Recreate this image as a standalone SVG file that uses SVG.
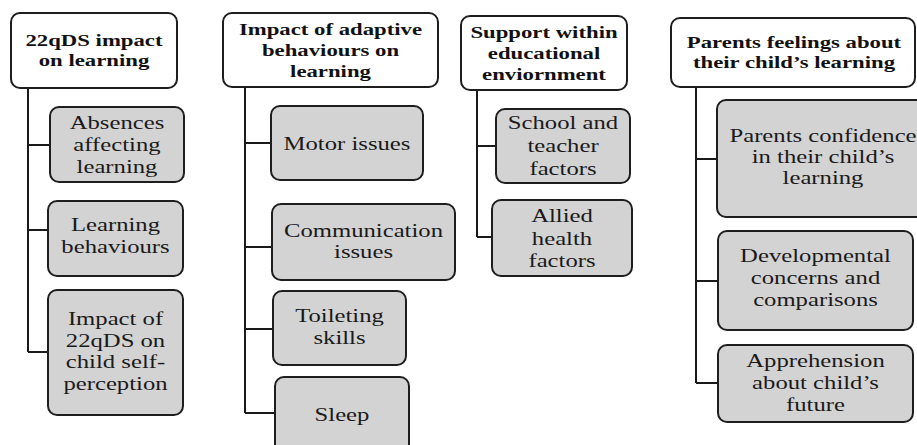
<svg xmlns="http://www.w3.org/2000/svg" width="917" height="445" viewBox="0 0 917 445">
  <style>
    .head rect { fill: #ffffff; stroke: #1e1e1e; stroke-width: 2; }
    .sub rect { fill: #d3d3d3; stroke: #1e1e1e; stroke-width: 2; }
    .head text { font-weight: bold; font-size: 17.5px; fill: #111; text-anchor: middle; }
    .sub text { font-size: 19px; fill: #1a1a1a; text-anchor: middle; }
    .links path { fill: none; stroke: #1a1a1a; stroke-width: 2; }
  </style>
  <rect width="917" height="445" fill="#ffffff"/>

  <!-- tree connectors -->
  <g class="links" id="connectors">
    <path d="M28 88 V352 M28 145 H50 M28 230 H48 M28 352 H48"/>
    <path d="M245 87 V413 M245 143 H271 M245 247 H272 M245 329 H273 M245 413 H275"/>
    <path d="M477 90 V237 M477 146 H496 M477 237 H492"/>
    <path d="M696 87 V383 M696 159 H717 M696 281 H718 M696 383 H718"/>
  </g>

  <g font-family="'Liberation Serif', 'DejaVu Serif', serif">
  <!-- column 1 -->
  <g id="n-22qds-impact" class="head">
    <rect x="11" y="13" width="166" height="75" rx="9"/>
    <g transform="translate(94 0) scale(1.3 1)"><text x="0" y="46">22qDS impact</text><text x="0" y="66">on learning</text></g>
  </g>
  <g id="n-absences" class="sub">
    <rect x="50" y="107" width="134" height="75" rx="9"/>
    <g transform="translate(117 0) scale(1.3 1)"><text x="0" y="129">Absences</text><text x="0" y="151">affecting</text><text x="0" y="173">learning</text></g>
  </g>
  <g id="n-learning-behaviours" class="sub">
    <rect x="48" y="201" width="135" height="75" rx="9"/>
    <g transform="translate(115.5 0) scale(1.3 1)"><text x="0" y="231">Learning</text><text x="0" y="253">behaviours</text></g>
  </g>
  <g id="n-self-perception" class="sub">
    <rect x="48" y="290" width="135" height="125" rx="9"/>
    <g transform="translate(115.5 0) scale(1.3 1)"><text x="0" y="325">Impact of</text><text x="0" y="347">22qDS on</text><text x="0" y="368">child self-</text><text x="0" y="390">perception</text></g>
  </g>

  <!-- column 2 -->
  <g id="n-adaptive" class="head">
    <rect x="223" y="13" width="215" height="74" rx="9"/>
    <g transform="translate(330.5 0) scale(1.3 1)"><text x="0" y="35">Impact of adaptive</text><text x="0" y="56">behaviours on</text><text x="0" y="77">learning</text></g>
  </g>
  <g id="n-motor" class="sub">
    <rect x="271" y="106" width="152" height="74" rx="9"/>
    <g transform="translate(347 0) scale(1.3 1)"><text x="0" y="150">Motor issues</text></g>
  </g>
  <g id="n-communication" class="sub">
    <rect x="272" y="204" width="183" height="76" rx="9"/>
    <g transform="translate(363.5 0) scale(1.3 1)"><text x="0" y="237">Communication</text><text x="0" y="258">issues</text></g>
  </g>
  <g id="n-toileting" class="sub">
    <rect x="273" y="291" width="133" height="74" rx="9"/>
    <g transform="translate(339.5 0) scale(1.3 1)"><text x="0" y="322">Toileting</text><text x="0" y="344">skills</text></g>
  </g>
  <g id="n-sleep" class="sub">
    <rect x="275" y="377" width="134" height="90" rx="9"/>
    <g transform="translate(342 0) scale(1.3 1)"><text x="0" y="421">Sleep</text></g>
  </g>

  <!-- column 3 -->
  <g id="n-support" class="head">
    <rect x="461" y="16" width="166" height="74" rx="9"/>
    <g transform="translate(544 0) scale(1.3 1)"><text x="0" y="38">Support within</text><text x="0" y="59">educational</text><text x="0" y="80">enviornment</text></g>
  </g>
  <g id="n-school" class="sub">
    <rect x="496" y="109" width="134" height="74" rx="9"/>
    <g transform="translate(563 0) scale(1.3 1)"><text x="0" y="129">School and</text><text x="0" y="152">teacher</text><text x="0" y="175">factors</text></g>
  </g>
  <g id="n-allied" class="sub">
    <rect x="492" y="200" width="140" height="76" rx="9"/>
    <g transform="translate(562 0) scale(1.3 1)"><text x="0" y="222">Allied</text><text x="0" y="245">health</text><text x="0" y="267">factors</text></g>
  </g>

  <!-- column 4 -->
  <g id="n-parents" class="head">
    <rect x="671" y="18" width="244" height="69" rx="9"/>
    <g transform="translate(794 0) scale(1.3 1)"><text x="0" y="48">Parents feelings about</text><text x="0" y="68">their child’s learning</text></g>
  </g>
  <g id="n-confidence" class="sub">
    <rect x="717" y="100" width="214" height="117" rx="9"/>
    <g transform="translate(823 0) scale(1.3 1)"><text x="0" y="142">Parents confidence</text><text x="0" y="163">in their child’s</text><text x="0" y="184">learning</text></g>
  </g>
  <g id="n-developmental" class="sub">
    <rect x="718" y="231" width="195" height="99" rx="9"/>
    <g transform="translate(815.5 0) scale(1.3 1)"><text x="0" y="262">Developmental</text><text x="0" y="284">concerns and</text><text x="0" y="306">comparisons</text></g>
  </g>
  <g id="n-apprehension" class="sub">
    <rect x="718" y="345" width="195" height="77" rx="9"/>
    <g transform="translate(815.5 0) scale(1.3 1)"><text x="0" y="367">Apprehension</text><text x="0" y="389">about child’s</text><text x="0" y="411">future</text></g>
  </g>
  </g>
</svg>
